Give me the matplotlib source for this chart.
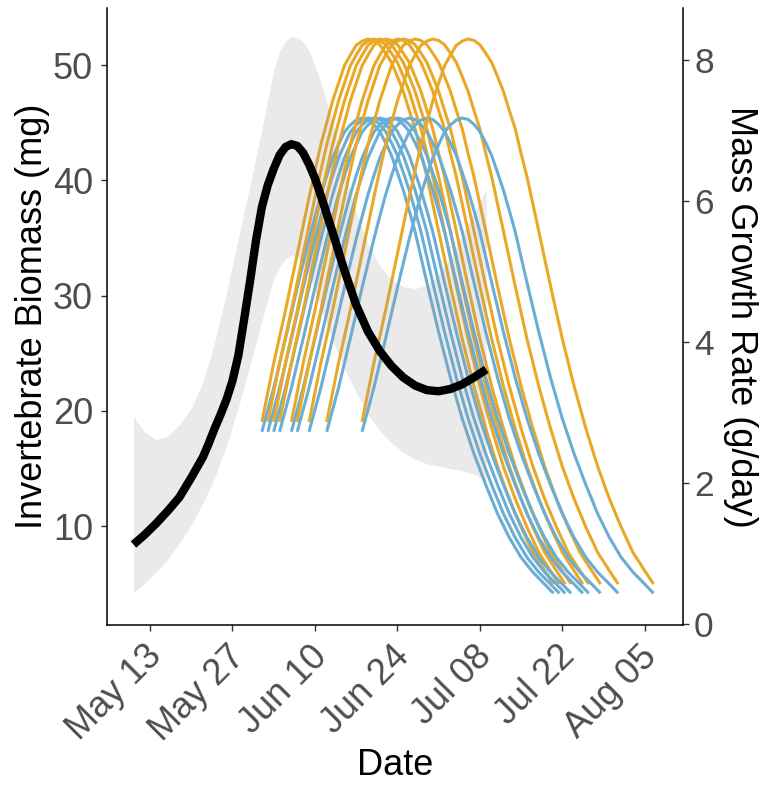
import datetime as dt
import matplotlib
matplotlib.use("Agg")
import matplotlib.pyplot as plt
import matplotlib.dates as mdates
import matplotlib.transforms as mtransforms

plt.rcParams['font.family'] = ['Liberation Sans', 'DejaVu Sans']

# ---------------- data ----------------
origin = dt.date(2019, 5, 13)

# invertebrate biomass smooth (days after May 13, mg)
fit_days = [-2.8, -1, 1, 3, 5, 7, 9, 10, 11, 12, 13, 14, 15, 16, 17, 18, 19, 20, 21,
            22, 23, 24, 25, 26, 27, 28, 29, 31, 33, 35, 37, 39, 41, 43, 45, 47, 49,
            51, 53, 55, 57.1]
fit_mg = [8.4, 9.2, 10.2, 11.3, 12.5, 14.2, 16.0, 17.2, 18.5, 19.7, 21.0, 22.6, 24.8,
          28.0, 31.3, 34.8, 37.7, 39.6, 41.0, 42.2, 42.9, 43.15, 43.0, 42.4, 41.4,
          40.2, 38.7, 35.5, 32.2, 29.2, 26.9, 25.2, 23.9, 22.9, 22.2, 21.8, 21.7,
          21.9, 22.3, 22.9, 23.6]

# confidence ribbon
ci_days = [-2.8, -1, 1, 3, 5, 7, 9, 11, 13, 15, 17, 19, 21, 22, 23, 24, 25, 26, 27,
           29, 31, 33, 35, 37, 39, 41, 43, 45, 47, 49, 51, 53, 55, 57.1]
ci_upper = [19.5, 18.2, 17.5, 17.8, 18.8, 20.2, 22.5, 26.0, 30.3, 35.0, 39.6, 44.5,
            49.6, 51.2, 52.1, 52.5, 52.4, 52.0, 51.3, 48.6, 45.0, 41.0, 37.3, 34.5,
            32.6, 31.4, 30.8, 30.6, 30.9, 31.8, 33.3, 35.2, 37.2, 39.2]
ci_lower = [4.2, 5.0, 6.0, 7.1, 8.5, 10.1, 12.0, 14.2, 17.0, 20.3, 24.0, 27.8, 31.5,
            32.5, 33.2, 33.5, 33.4, 32.8, 31.8, 29.0, 26.1, 23.7, 21.6, 19.7, 18.3,
            17.2, 16.4, 15.8, 15.4, 15.2, 15.0, 14.8, 14.5, 13.9]

# growth-rate curves (g/day) by age in days, one start date per chick cohort
ages = [0, 2, 4, 6, 8, 9, 10, 11, 12, 13, 14, 15, 16, 17, 18, 19, 20, 21, 22, 23,
        24, 25, 26, 27, 28, 30, 32, 34, 36, 38, 40, 42, 44, 46, 48, 49.5]
orange_rate = [2.87, 3.70, 4.45, 5.25, 6.05, 6.43, 6.80, 7.11, 7.42, 7.67, 7.92,
               8.07, 8.21, 8.27, 8.30, 8.28, 8.22, 8.10, 7.97, 7.77, 7.56, 7.29,
               7.03, 6.68, 6.35, 5.58, 4.80, 4.05, 3.38, 2.78, 2.24, 1.78, 1.38,
               1.02, 0.76, 0.57]
blue_rate = [2.73, 3.35, 4.05, 4.77, 5.46, 5.78, 6.09, 6.36, 6.61, 6.80, 6.98, 7.08,
             7.15, 7.18, 7.16, 7.09, 6.99, 6.83, 6.65, 6.41, 6.16, 5.87, 5.57, 5.21,
             4.85, 4.15, 3.50, 2.92, 2.42, 1.98, 1.57, 1.23, 0.95, 0.74, 0.57, 0.44]
start_days = [19, 20, 21, 22, 24, 25, 27, 30, 36]

tick_days = [0, 14, 28, 42, 56, 70, 84]

ORANGE = '#EAA827'
BLUE = '#6AADD5'


def to_date(d):
    return dt.datetime(origin.year, origin.month, origin.day) + dt.timedelta(days=d)


# ---------------- figure ----------------
fig = plt.figure(figsize=(7.59, 7.85), dpi=100)
ax1 = fig.add_axes([107 / 759, 160 / 785, 576 / 759, 617 / 785])
ax2 = ax1.twinx()
ax1.set_zorder(ax2.get_zorder() + 1)
ax1.patch.set_visible(False)

for s in start_days:
    xs = [to_date(s + a) for a in ages]
    ax2.plot(xs, orange_rate, color=ORANGE, lw=2.2, solid_capstyle='butt',
             solid_joinstyle='round')
    ax2.plot(xs, blue_rate, color=BLUE, lw=2.2, solid_capstyle='butt',
             solid_joinstyle='round')

ax1.fill_between([to_date(d) for d in ci_days], ci_lower, ci_upper,
                 color='#999999', alpha=0.2, lw=0)
ax1.plot([to_date(d) for d in fit_days], fit_mg, color='black', lw=6,
         solid_capstyle='butt', solid_joinstyle='round')

ax1.set_xlim(to_date(-7.3), to_date(90.5))
ax1.set_ylim(1.41, 54.97)
ax2.set_ylim(-0.01, 8.74)

ax1.set_xticks([to_date(d) for d in tick_days])
ax1.xaxis.set_major_formatter(mdates.DateFormatter('%b %d'))
ax1.set_yticks([10, 20, 30, 40, 50])
ax2.set_yticks([0, 2, 4, 6, 8])

for sp in ['top', 'right']:
    ax1.spines[sp].set_visible(False)
for sp in ['top', 'left', 'bottom']:
    ax2.spines[sp].set_visible(False)
for ax in (ax1, ax2):
    for sp in ax.spines.values():
        sp.set_linewidth(1.1)
        sp.set_color('black')
    ax.tick_params(length=4, width=1.0, color='#333333', labelcolor='#4D4D4D',
                   labelsize=25.5, pad=4)
ax1.tick_params(axis='y', labelsize=26, pad=6)
ax1.tick_params(axis='x', labelsize=26)

shift = mtransforms.ScaledTranslation(-4 / 72, -2 / 72, fig.dpi_scale_trans)
for lab in ax1.get_xticklabels():
    lab.set_rotation(45)
    lab.set_ha('right')
    lab.set_va('top')
    lab.set_rotation_mode('anchor')
    lab.set_transform(lab.get_transform() + shift)

ax1.set_xlabel('Date', fontsize=26)
ax1.xaxis.set_label_coords(0.5, -0.2285)
ax1.xaxis.label.set_va('center')

ax1.set_ylabel('Invertebrate Biomass (mg)', fontsize=26)
ax1.yaxis.set_label_coords(-0.130, 0.5)
ax1.yaxis.label.set_va('center')

ax2.set_ylabel('Mass Growth Rate (g/day)', fontsize=26, rotation=270)
ax2.yaxis.set_label_coords(1.099, 0.5)
ax2.yaxis.label.set_va('center')
ax2.yaxis.label.set_ha('center')

fig.savefig('out.png', dpi=100)
